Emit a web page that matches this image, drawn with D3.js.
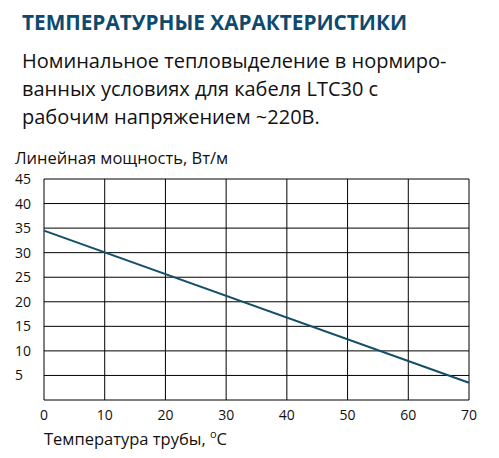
<!DOCTYPE html>
<html><head><meta charset="utf-8">
<script src="https://cdn.jsdelivr.net/npm/d3@7"></script>
<style>body{margin:0;background:#fff}text{font-family:"Open Sans",sans-serif}</style>
</head><body>
<script>
const xTicks=[0,10,20,30,40,50,60,70];
const yTicks=[5,10,15,20,25,30,35,40,45];
const temps=[0,70];
const power=[34.5,3.5];
const W=499,H=458;
const svg=d3.select("body").append("svg").attr("width",W).attr("height",H);
const x=d3.scaleLinear().domain([0,70]).range([44,469]);
const y=d3.scaleLinear().domain([0,45]).range([400,179]);
svg.append("text").attr("x",22).attr("y",30).attr("font-size",21).attr("font-weight","bold").attr("fill","#0d4a6e").attr("textLength",385).attr("lengthAdjust","spacingAndGlyphs").text("ТЕМПЕРАТУРНЫЕ ХАРАКТЕРИСТИКИ");
["Номинальное тепловыделение в нормиро-","ванных условиях для кабеля LTC30 с","рабочим напряжением ~220В."].forEach((t,i)=>
 svg.append("text").attr("x",22).attr("y",68+i*28).attr("font-size",20).attr("fill","#111").text(t));
svg.append("text").attr("x",15).attr("y",164).attr("font-size",16.5).attr("fill","#111").text("Линейная мощность, Вт/м");
svg.append("text").attr("x",44).attr("y",445).attr("font-size",16.5).attr("fill","#111").html("Температура трубы, <tspan dy='-7' font-size='11'>o</tspan><tspan dy='7'>C</tspan>");
const g=svg.append("g");
g.selectAll(".h").data(yTicks).join("line").attr("x1",x(0)).attr("x2",x(70)).attr("y1",d=>y(d)).attr("y2",d=>y(d)).attr("stroke","#000");
g.selectAll(".v").data(xTicks).join("line").attr("y1",y(0)).attr("y2",y(45)).attr("x1",d=>x(d)).attr("x2",d=>x(d)).attr("stroke","#000");
g.append("line").attr("x1",x(0)).attr("x2",x(70)).attr("y1",y(0)).attr("y2",y(0)).attr("stroke","#000");
g.selectAll(".yl").data(yTicks).join("text").attr("x",15).attr("y",d=>y(d)+5).attr("font-size",14).attr("fill","#111").text(d=>d);
g.selectAll(".xl").data(xTicks).join("text").attr("x",d=>x(d)).attr("y",420).attr("text-anchor","middle").attr("font-size",14).attr("fill","#111").text(d=>d);
svg.append("path").datum(temps.map((t,i)=>[t,power[i]])).attr("d",d3.line().x(d=>x(d[0])).y(d=>y(d[1]))).attr("fill","none").attr("stroke","#134e6a").attr("stroke-width",2);
</script></body></html>
